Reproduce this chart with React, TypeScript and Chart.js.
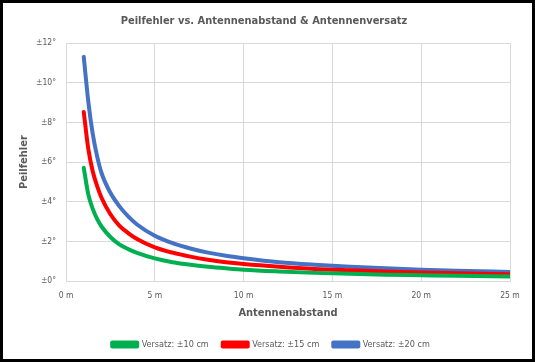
import React, { useEffect, useRef } from "react";
import { Chart, registerables } from "chart.js";

Chart.register(...registerables);

const distances = [1, 1.25, 1.5, 1.75, 2, 2.5, 3, 3.5, 4, 5, 6, 7, 8, 9, 10, 12, 14, 16, 18, 20, 22, 25];
const err10 = [5.71, 4.4, 3.65, 3.13, 2.75, 2.22, 1.85, 1.61, 1.42, 1.14, 0.95, 0.82, 0.72, 0.64, 0.57, 0.48, 0.41, 0.36, 0.32, 0.29, 0.26, 0.23];
const err15 = [8.53, 6.7, 5.55, 4.8, 4.2, 3.37, 2.8, 2.42, 2.12, 1.7, 1.43, 1.23, 1.07, 0.95, 0.86, 0.72, 0.61, 0.54, 0.48, 0.43, 0.39, 0.34];
const err20 = [11.31, 9.1, 7.45, 6.3, 5.45, 4.45, 3.78, 3.26, 2.85, 2.28, 1.91, 1.64, 1.43, 1.27, 1.15, 0.95, 0.82, 0.72, 0.64, 0.57, 0.52, 0.46];
const seriesLabels = ["Versatz: ±10 cm", "Versatz: ±15 cm", "Versatz: ±20 cm"];
const seriesColors = ["#00b050", "#ff0000", "#4472c4"];
const titleText = "Peilfehler vs. Antennenabstand & Antennenversatz";
const xTitle = "Antennenabstand";
const yTitle = "Peilfehler";

const FONT = "'Liberation Sans Narrow', 'DejaVu Sans Condensed', 'Liberation Sans', sans-serif";
const GREY = "#595959";

const legendShift = {
  id: "legendShift",
  afterLayout(chart: any) {
    if (chart.legend) {
      chart.legend.left += 7;
      chart.legend.right += 7;
    }
  },
};

export default function App() {
  const ref = useRef<HTMLCanvasElement>(null);
  useEffect(() => {
    document.body.style.margin = "0";
    const series = [err10, err15, err20];
    const chart = new Chart(ref.current!, {
      type: "line",
      plugins: [legendShift],
      data: {
        datasets: series.map((s, i) => ({
          label: seriesLabels[i],
          data: s.map((v, j) => ({ x: distances[j], y: v })),
          borderColor: seriesColors[i],
          backgroundColor: seriesColors[i],
          borderWidth: 4,
          borderCapStyle: "round" as const,
          borderJoinStyle: "round" as const,
          pointRadius: 0,
          cubicInterpolationMode: "monotone" as const,
          fill: false,
        })),
      },
      options: {
        animation: false,
        responsive: false,
        layout: { padding: { left: 18, right: 25, top: 6, bottom: 3 } },
        plugins: {
          title: {
            display: true,
            text: titleText,
            color: GREY,
            font: { family: FONT, size: 11, weight: "bold" },
            padding: { top: 9, bottom: 15 },
          },
          legend: {
            position: "bottom",
            labels: {
              color: GREY,
              font: { family: FONT, size: 9 },
              boxWidth: 25,
              boxHeight: 4,
              padding: 14,
            },
          },
          tooltip: { enabled: false },
        },
        scales: {
          x: {
            type: "linear",
            min: 0,
            max: 25,
            afterFit: (scale: any) => {
              scale.height = 45;
            },
            ticks: {
              stepSize: 5,
              color: GREY,
              font: { family: FONT, size: 8.5 },
              callback: (v: any) => `${v} m`,
              padding: 10,
            },
            grid: { color: "#d9d9d9", drawTicks: false },
            border: { color: "#d9d9d9" },
            title: {
              display: true,
              text: xTitle,
              color: GREY,
              font: { family: FONT, size: 11, weight: "bold" },
              padding: { top: 5, bottom: 6 },
            },
          },
          y: {
            min: 0,
            max: 12,
            afterFit: (scale: any) => {
              scale.width = 48;
            },
            ticks: {
              stepSize: 2,
              color: GREY,
              font: { family: FONT, size: 8.5 },
              callback: (v: any) => `±${v}°`,
              padding: 10,
            },
            grid: { color: "#d9d9d9", drawTicks: false },
            border: { color: "#d9d9d9" },
            title: {
              display: true,
              text: yTitle,
              color: GREY,
              font: { family: FONT, size: 11, weight: "bold" },
              padding: { top: 0, bottom: 0 },
            },
          },
        },
      },
    });
    return () => chart.destroy();
  }, []);
  return (
    <div style={{ position: "relative", width: 535, height: 362, background: "#fff" }}>
      <canvas ref={ref} width={535} height={362} style={{ display: "block" }} />
      <div
        style={{
          position: "absolute",
          inset: 0,
          border: "3px solid #000",
          boxSizing: "border-box",
          pointerEvents: "none",
        }}
      />
    </div>
  );
}
